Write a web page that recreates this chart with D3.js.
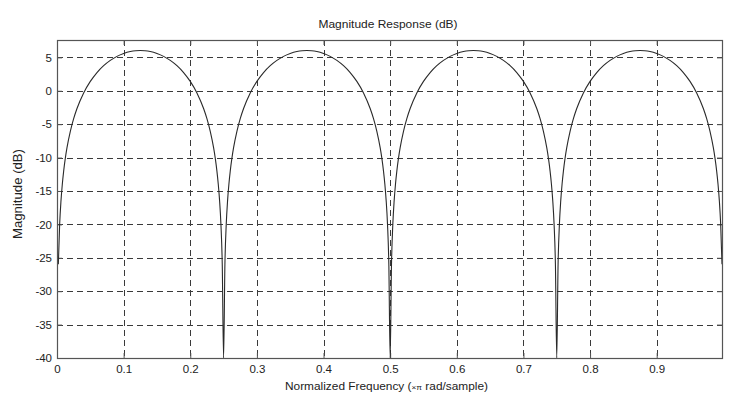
<!DOCTYPE html>
<html>
<head>
<meta charset="utf-8">
<script src="https://cdn.jsdelivr.net/npm/d3@7"></script>
<style>
  html, body { margin: 0; padding: 0; background: #fff; }
  svg { display: block; font-family: "Liberation Sans", Arial, sans-serif; }
</style>
</head>
<body>
<svg id="chart" width="742" height="397"></svg>
<script>
// ---- data ----
const titleText = "Magnitude Response (dB)";
const yLabelText = "Magnitude (dB)";
const xTicks = [0, 0.1, 0.2, 0.3, 0.4, 0.5, 0.6, 0.7, 0.8, 0.9];
const xTickLabels = ["0", "0.1", "0.2", "0.3", "0.4", "0.5", "0.6", "0.7", "0.8", "0.9"];
const yTicks = [-40, -35, -30, -25, -20, -15, -10, -5, 0, 5];
const yTickLabels = ["-40", "-35", "-30", "-25", "-20", "-15", "-10", "-5", "0", "5"];

const freq = [
  0.002,0.004,0.006,0.008,0.010,0.0125,0.015,0.020,0.025,0.030,0.040,0.050,0.060,0.070,0.080,0.090,0.100,0.110,0.118,0.125,
  0.132,0.140,0.150,0.160,0.170,0.180,0.190,0.200,0.210,0.220,0.225,0.230,0.235,0.2375,0.240,0.242,0.244,0.246,0.248,0.250,
  0.252,0.254,0.256,0.258,0.260,0.2625,0.265,0.270,0.275,0.280,0.290,0.300,0.310,0.320,0.330,0.340,0.350,0.360,0.368,0.375,
  0.382,0.390,0.400,0.410,0.420,0.430,0.440,0.450,0.460,0.470,0.475,0.480,0.485,0.4875,0.490,0.492,0.494,0.496,0.498,0.500,
  0.502,0.504,0.506,0.508,0.510,0.5125,0.515,0.520,0.525,0.530,0.540,0.550,0.560,0.570,0.580,0.590,0.600,0.610,0.618,0.625,
  0.632,0.640,0.650,0.660,0.670,0.680,0.690,0.700,0.710,0.720,0.725,0.730,0.735,0.7375,0.740,0.742,0.744,0.746,0.748,0.750,
  0.752,0.754,0.756,0.758,0.760,0.7625,0.765,0.770,0.775,0.780,0.790,0.800,0.810,0.820,0.830,0.840,0.850,0.860,0.868,0.875,
  0.882,0.890,0.900,0.910,0.920,0.930,0.940,0.950,0.960,0.970,0.975,0.980,0.985,0.9875,0.990,0.992,0.994,0.996,0.998
];
const magnitudeDb = [
  -25.98,-19.96,-16.44,-13.95,-12.02,-10.09,-8.52,-6.07,-4.18,-2.66,-0.32,1.40,2.73,3.76,4.55,5.15,5.58,5.87,5.99,6.02,
  5.99,5.87,5.58,5.15,4.55,3.76,2.73,1.40,-0.32,-2.66,-4.18,-6.07,-8.52,-10.09,-12.02,-13.95,-16.44,-19.96,-25.98,-40,
  -25.98,-19.96,-16.44,-13.95,-12.02,-10.09,-8.52,-6.07,-4.18,-2.66,-0.32,1.40,2.73,3.76,4.55,5.15,5.58,5.87,5.99,6.02,
  5.99,5.87,5.58,5.15,4.55,3.76,2.73,1.40,-0.32,-2.66,-4.18,-6.07,-8.52,-10.09,-12.02,-13.95,-16.44,-19.96,-25.98,-40,
  -25.98,-19.96,-16.44,-13.95,-12.02,-10.09,-8.52,-6.07,-4.18,-2.66,-0.32,1.40,2.73,3.76,4.55,5.15,5.58,5.87,5.99,6.02,
  5.99,5.87,5.58,5.15,4.55,3.76,2.73,1.40,-0.32,-2.66,-4.18,-6.07,-8.52,-10.09,-12.02,-13.95,-16.44,-19.96,-25.98,-40,
  -25.98,-19.96,-16.44,-13.95,-12.02,-10.09,-8.52,-6.07,-4.18,-2.66,-0.32,1.40,2.73,3.76,4.55,5.15,5.58,5.87,5.99,6.02,
  5.99,5.87,5.58,5.15,4.55,3.76,2.73,1.40,-0.32,-2.66,-4.18,-6.07,-8.52,-10.09,-12.02,-13.95,-16.44,-19.96,-25.98
];

// ---- layout ----
const plot = { left: 57, right: 722, top: 40, bottom: 358 };
const svg = d3.select("#chart");

const x = d3.scaleLinear().domain([0, 0.998]).range([plot.left, plot.right]);
const y = d3.scaleLinear().domain([-40, 7.6]).range([plot.bottom, plot.top]);

const gridColor = "#3a3a3a";
const axisColor = "#555";

// clip
svg.append("clipPath").attr("id", "clip")
  .append("rect")
  .attr("x", plot.left).attr("y", plot.top)
  .attr("width", plot.right - plot.left).attr("height", plot.bottom - plot.top);

// grid lines
const grid = svg.append("g");
grid.selectAll("line.vx").data(xTicks.filter(d => d > 0)).enter().append("line")
  .attr("x1", d => Math.round(x(d)) + 0.5).attr("x2", d => Math.round(x(d)) + 0.5)
  .attr("y1", plot.top).attr("y2", plot.bottom)
  .attr("stroke", gridColor).attr("stroke-width", 1).attr("stroke-dasharray", "6,4");
grid.selectAll("line.hy").data(yTicks.filter(d => d > -40)).enter().append("line")
  .attr("y1", d => Math.round(y(d)) + 0.5).attr("y2", d => Math.round(y(d)) + 0.5)
  .attr("x1", plot.left).attr("x2", plot.right)
  .attr("stroke", gridColor).attr("stroke-width", 1).attr("stroke-dasharray", "6,4");

// axes using d3 axis generators (ticks inside)
const xAxisBottom = d3.axisBottom(x).tickValues(xTicks)
  .tickFormat((d, i) => xTickLabels[i]).tickSizeInner(-5).tickSizeOuter(0).tickPadding(7);
const xAxisTop = d3.axisTop(x).tickValues(xTicks).tickFormat("").tickSizeInner(-5).tickSizeOuter(0);
const yAxisLeft = d3.axisLeft(y).tickValues(yTicks)
  .tickFormat((d, i) => yTickLabels[i]).tickSizeInner(-5).tickSizeOuter(0).tickPadding(5);
const yAxisRight = d3.axisRight(y).tickValues(yTicks).tickFormat("").tickSizeInner(-5).tickSizeOuter(0);

function styleAxis(g) {
  g.select(".domain").remove();
  g.selectAll(".tick line").attr("stroke", axisColor);
  g.selectAll(".tick text").attr("fill", "#222").attr("font-size", 11.5);
}
svg.append("g").attr("transform", `translate(0,${plot.bottom})`).call(xAxisBottom).call(styleAxis);
svg.append("g").attr("transform", `translate(0,${plot.top})`).call(xAxisTop).call(styleAxis);
svg.append("g").attr("transform", `translate(${plot.left},0)`).call(yAxisLeft).call(styleAxis);
svg.append("g").attr("transform", `translate(${plot.right},0)`).call(yAxisRight).call(styleAxis);

// curve
const pts = freq.map((f, i) => [f, magnitudeDb[i]]);
const line = d3.line().x(d => x(d[0])).y(d => y(d[1])).curve(d3.curveMonotoneX);
svg.append("path")
  .attr("clip-path", "url(#clip)")
  .attr("d", line(pts))
  .attr("fill", "none").attr("stroke", "#2a2a2a").attr("stroke-width", 1.1);

// box
svg.append("rect")
  .attr("x", plot.left + 0.5).attr("y", plot.top + 0.5)
  .attr("width", plot.right - plot.left).attr("height", plot.bottom - plot.top)
  .attr("fill", "none").attr("stroke", axisColor).attr("stroke-width", 1.2);

// title
svg.append("text").attr("x", 388).attr("y", 28)
  .attr("text-anchor", "middle").attr("font-size", 11.5).attr("fill", "#222")
  .attr("textLength", 139).attr("lengthAdjust", "spacingAndGlyphs").text(titleText);

// y label
svg.append("text")
  .attr("transform", `translate(22,194) rotate(-90)`)
  .attr("text-anchor", "middle").attr("font-size", 12).attr("fill", "#222")
  .attr("textLength", 90).attr("lengthAdjust", "spacingAndGlyphs").text(yLabelText);

// x label with small ×π
const xl = svg.append("text").attr("x", 386.5).attr("y", 390)
  .attr("text-anchor", "middle").attr("font-size", 11.5).attr("fill", "#222")
  .attr("textLength", 203).attr("lengthAdjust", "spacingAndGlyphs");
xl.append("tspan").text("Normalized Frequency (");
xl.append("tspan").attr("font-size", 8).text("×π");
xl.append("tspan").text(" rad/sample)");
</script>
</body>
</html>
